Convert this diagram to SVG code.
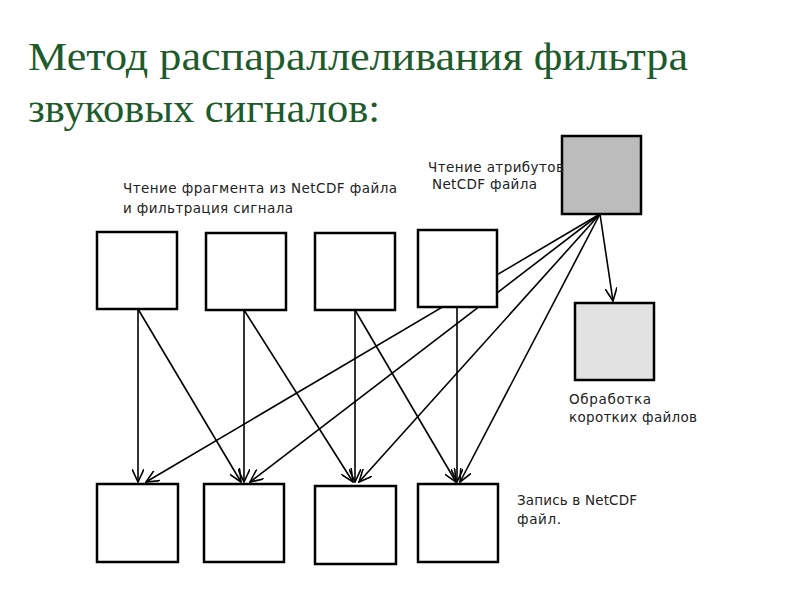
<svg xmlns="http://www.w3.org/2000/svg" width="794" height="595" viewBox="0 0 794 595">
<style>
.t{font-family:"Liberation Serif",serif;font-size:40px;fill:#1d5a2c}
.l{font-family:"DejaVu Sans",sans-serif;font-size:13.5px;fill:#222}
.b{fill:#fff;stroke:#000;stroke-width:2.5}
.c line{stroke:#000;stroke-width:1.6;marker-end:url(#a)}
</style>
<defs><marker id="a" viewBox="0 0 14 12" refX="13" refY="6" markerWidth="14" markerHeight="12" markerUnits="userSpaceOnUse" orient="auto"><path d="M0,0 L13,6 L0,12" fill="none" stroke="#000" stroke-width="1.6"/></marker></defs>
<rect width="794" height="595" fill="#fff"/>
<text class="t" x="28" y="70" textLength="660" lengthAdjust="spacingAndGlyphs">Метод распараллеливания фильтра</text>
<text class="t" x="28" y="122" textLength="352" lengthAdjust="spacingAndGlyphs">звуковых сигналов:</text>
<g class="c">
<line x1="138" y1="309" x2="138" y2="482"/>
<line x1="138" y1="309" x2="241" y2="482"/>
<line x1="244" y1="310" x2="244" y2="482"/>
<line x1="244" y1="310" x2="353" y2="482"/>
<line x1="355" y1="310" x2="355" y2="482"/>
<line x1="355" y1="310" x2="456" y2="482"/>
<line x1="457" y1="307" x2="457" y2="482"/>
<line x1="600" y1="214" x2="146" y2="482"/>
<line x1="600" y1="214" x2="250" y2="482"/>
<line x1="600" y1="214" x2="359" y2="482"/>
<line x1="600" y1="214" x2="460" y2="482"/>
<line x1="600" y1="214" x2="613" y2="301"/>
</g>
<g id="top1"><rect class="b" x="97" y="232" width="80" height="77"/></g>
<g id="top2"><rect class="b" x="206" y="233" width="80" height="77"/></g>
<g id="top3"><rect class="b" x="315" y="233" width="80" height="77"/></g>
<g id="top4"><rect class="b" x="418" y="230" width="79" height="77"/></g>
<g id="attr"><rect class="b" x="562" y="136" width="79" height="78" style="fill:#bcbcbc"/></g>
<g id="short"><rect class="b" x="575" y="303" width="79" height="77" style="fill:#e2e2e2"/></g>
<g id="bot1"><rect class="b" x="97" y="484" width="81" height="78"/></g>
<g id="bot2"><rect class="b" x="204" y="484" width="80" height="78"/></g>
<g id="bot3"><rect class="b" x="315" y="486" width="81" height="78"/></g>
<g id="bot4"><rect class="b" x="418" y="484" width="80" height="78"/></g>
<text class="l" x="123" y="193" textLength="274">Чтение фрагмента из NetCDF файла</text>
<text class="l" x="123" y="213" textLength="170">и фильтрация сигнала</text>
<text class="l" x="428" y="172" textLength="136">Чтение атрибутов</text>
<text class="l" x="432" y="189" textLength="105">NetCDF файла</text>
<text class="l" x="569" y="404" textLength="82">Обработка</text>
<text class="l" x="569" y="422" textLength="128">коротких файлов</text>
<text class="l" x="517" y="505" textLength="120">Запись в NetCDF</text>
<text class="l" x="517" y="524" textLength="44">файл.</text>
</svg>
